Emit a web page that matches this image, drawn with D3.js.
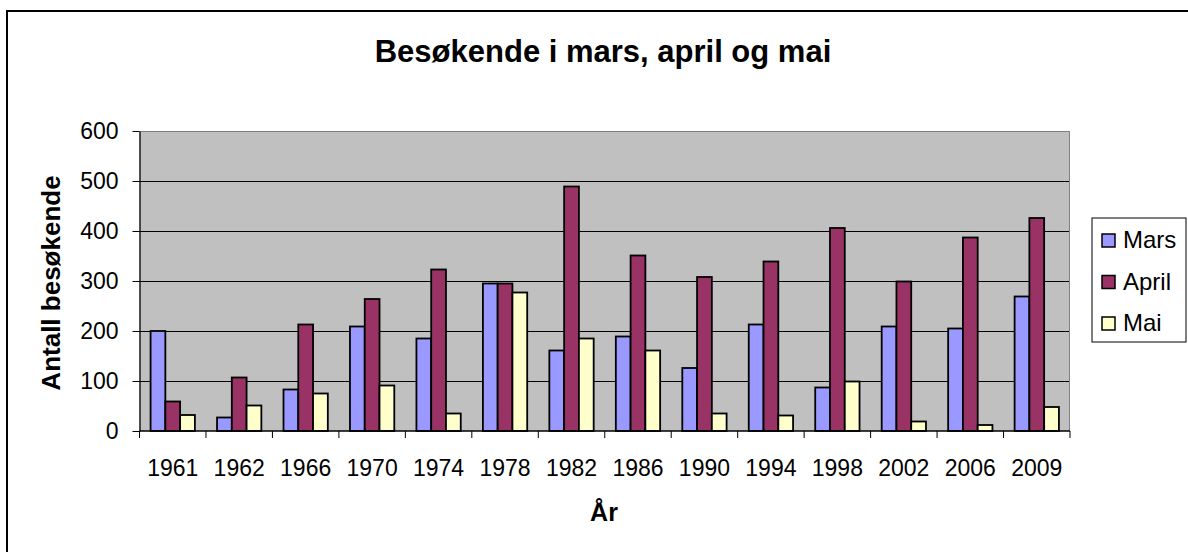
<!DOCTYPE html>
<html>
<head>
<meta charset="utf-8">
<script src="https://cdn.jsdelivr.net/npm/d3@7/dist/d3.min.js"></script>
<style>
  body { margin: 0; background: #fff; }
  svg { display: block; font-family: Arial, "Liberation Sans", sans-serif; }
</style>
</head>
<body>
<svg id="chart" width="1188" height="552"></svg>
<script>
const years = ['1961','1962','1966','1970','1974','1978','1982','1986','1990','1994','1998','2002','2006','2009'];
const mars  = [200, 27, 83, 209, 185, 295, 161, 189, 126, 213, 87, 209, 205, 269];
const april = [59, 107, 213, 264, 323, 295, 489, 351, 308, 339, 406, 299, 387, 426];
const mai   = [32, 51, 75, 91, 35, 277, 185, 161, 35, 31, 99, 19, 12, 48];
const seriesNames = ['Mars', 'April', 'Mai'];
const seriesColors = ['#9999ff', '#993366', '#ffffcc'];
const yTicks = [0, 100, 200, 300, 400, 500, 600];

const width = 1188, height = 552;
const plot = { left: 139.5, right: 1070, top: 131, bottom: 431 };

const svg = d3.select('#chart');

// outer chart frame (cut off on right and bottom like the original)
svg.append('rect')
    .attr('x', 7).attr('y', 11)
    .attr('width', 1300).attr('height', 700)
    .attr('fill', 'none').attr('stroke', '#000').attr('stroke-width', 2);

const x = d3.scaleBand().domain(years).range([plot.left, plot.right]).padding(0);
const xs = d3.scaleBand().domain(seriesNames).range([0, x.bandwidth()])
    .paddingInner(0).paddingOuter(0.75);
const y = d3.scaleLinear().domain([0, 600]).range([plot.bottom, plot.top]);

// plot background
svg.append('rect')
    .attr('x', plot.left).attr('y', plot.top)
    .attr('width', plot.right - plot.left).attr('height', plot.bottom - plot.top)
    .attr('fill', '#c0c0c0');

// gridlines
svg.append('g').selectAll('line').data(yTicks.filter(d => d > 0 && d < 600)).join('line')
    .attr('x1', plot.left).attr('x2', plot.right)
    .attr('y1', d => Math.round(y(d)) + 0.5).attr('y2', d => Math.round(y(d)) + 0.5)
    .attr('stroke', '#000').attr('stroke-width', 1);

// top + right border of plot area
svg.append('path')
    .attr('d', `M${plot.left},${plot.top + 0.5}H${plot.right - 0.5}V${plot.bottom}`)
    .attr('fill', 'none').attr('stroke', '#808080').attr('stroke-width', 1);

// bars
const data = years.map((yr, i) => ({ year: yr, values: [mars[i], april[i], mai[i]] }));
const groups = svg.append('g').selectAll('g').data(data).join('g')
    .attr('transform', d => `translate(${x(d.year)},0)`);
groups.selectAll('rect').data(d => d.values.map((v, k) => ({ v, k }))).join('rect')
    .attr('x', d => xs(seriesNames[d.k]))
    .attr('y', d => y(d.v))
    .attr('width', xs.bandwidth())
    .attr('height', d => y(0) - y(d.v))
    .attr('fill', d => seriesColors[d.k])
    .attr('stroke', '#000').attr('stroke-width', 1.8);

// y axis
const yAxis = svg.append('g')
    .attr('transform', `translate(${plot.left},0)`)
    .call(d3.axisLeft(y).tickValues(yTicks).tickSize(7).tickPadding(14).tickSizeOuter(0));
yAxis.select('.domain').attr('stroke', '#000').attr('stroke-width', 1.3);
yAxis.selectAll('.tick line').attr('stroke', '#000');
yAxis.selectAll('text').attr('font-size', 23).attr('fill', '#000')
    .attr('font-family', 'Arial, "Liberation Sans", sans-serif');

// x axis: line + ticks at category boundaries + labels at band centres
const xAxis = svg.append('g').attr('transform', `translate(0,${plot.bottom})`);
xAxis.append('line')
    .attr('x1', plot.left).attr('x2', plot.right)
    .attr('stroke', '#000').attr('stroke-width', 1.3);
const bounds = years.map(d => x(d)).concat([x(years[years.length - 1]) + x.step()]);
xAxis.selectAll('line.tk').data(bounds).join('line')
    .attr('class', 'tk')
    .attr('x1', d => d).attr('x2', d => d)
    .attr('y1', 0).attr('y2', 7)
    .attr('stroke', '#000');
xAxis.selectAll('text').data(years).join('text')
    .attr('x', d => x(d) + x.bandwidth() / 2)
    .attr('y', 45)
    .attr('text-anchor', 'middle')
    .attr('font-size', 23)
    .text(d => d);

// title
svg.append('text')
    .attr('x', 603).attr('y', 62)
    .attr('text-anchor', 'middle')
    .attr('font-size', 31).attr('font-weight', 'bold')
    .text('Besøkende i mars, april og mai');

// axis titles
svg.append('text')
    .attr('transform', `translate(60,283) rotate(-90)`)
    .attr('text-anchor', 'middle')
    .attr('font-size', 26).attr('font-weight', 'bold')
    .text('Antall besøkende');

svg.append('text')
    .attr('x', 604).attr('y', 521)
    .attr('text-anchor', 'middle')
    .attr('font-size', 25).attr('font-weight', 'bold')
    .text('År');

// legend
const legend = svg.append('g').attr('transform', 'translate(1092,218)');
legend.append('rect')
    .attr('x', 0).attr('y', 0).attr('width', 94).attr('height', 124)
    .attr('fill', '#fff').attr('stroke', '#000').attr('stroke-width', 1);
const li = legend.selectAll('g').data(seriesNames).join('g')
    .attr('transform', (d, i) => `translate(10,${16 + i * 41.5})`);
li.append('rect')
    .attr('width', 13).attr('height', 13)
    .attr('fill', (d, i) => seriesColors[i])
    .attr('stroke', '#000').attr('stroke-width', 1.5);
li.append('text')
    .attr('x', 21).attr('y', 14)
    .attr('font-size', 24)
    .text(d => d);
</script>
</body>
</html>
